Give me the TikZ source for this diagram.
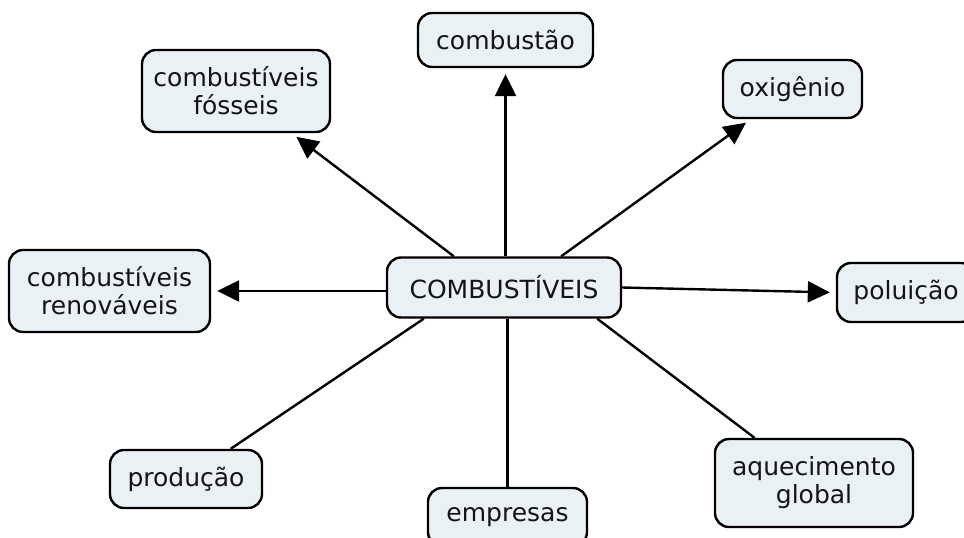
\documentclass[tikz,border=0pt]{standalone}
\usepackage{fontspec}
\setmainfont{DejaVu Sans}
\usetikzlibrary{arrows.meta}
\definecolor{boxfill}{RGB}{233,241,245}
\definecolor{ink}{RGB}{20,20,20}
\tikzset{
  concept/.style={draw=black, line width=2.4pt, fill=boxfill, rounded corners=14pt,
    align=center, inner sep=0pt, text=ink, font=\fontsize{25}{28}\selectfont},
  link/.style={line width=2.4pt, black},
  arr/.style={link, -{Triangle[length=22pt,width=21pt]}, shorten >=6pt}
}
\begin{document}
\begin{tikzpicture}[x=1pt,y=-1pt]
\useasboundingbox (0,0) rectangle (964,538);
\node[concept, minimum width=234pt, minimum height=60pt] (c) at (504,287.5) {COMBUSTÍVEIS};
\node[concept, minimum width=175pt, minimum height=54pt] (comb) at (505.5,40) {combustão};
\node[concept, minimum width=139pt, minimum height=58pt] (ox) at (792.5,89) {oxigênio};
\node[concept, minimum width=188pt, minimum height=82pt] (fos) at (236,91) {combustíveis\\fósseis};
\node[concept, minimum width=201pt, minimum height=82pt] (ren) at (109.5,291) {combustíveis\\renováveis};
\node[concept, minimum width=138pt, minimum height=59pt] (pol) at (906,292.5) {poluição};
\node[concept, minimum width=152pt, minimum height=58pt] (prod) at (186,479) {produção};
\node[concept, minimum width=159pt, minimum height=58pt] (emp) at (507.5,517) {empresas};
\node[concept, minimum width=198pt, minimum height=88pt] (aq) at (814,483) {aquecimento\\global};

\draw[arr] (comb.south |- c.north) -- (comb.south);
\draw[arr] ([xshift=-61pt]c.north east) -- (ox);
\draw[arr] ([xshift=68pt]c.north west) -- (fos);
\draw[arr] (ren.east -| c.west) -- (ren.east);
\draw[arr] (c.east) -- (pol.west);
\draw[link] ([xshift=38pt]c.south west) -- (prod);
\draw[link] (emp.north |- c.south) -- (emp.north);
\draw[link] ([xshift=-25pt]c.south east) -- (aq);
\end{tikzpicture}
\end{document}
